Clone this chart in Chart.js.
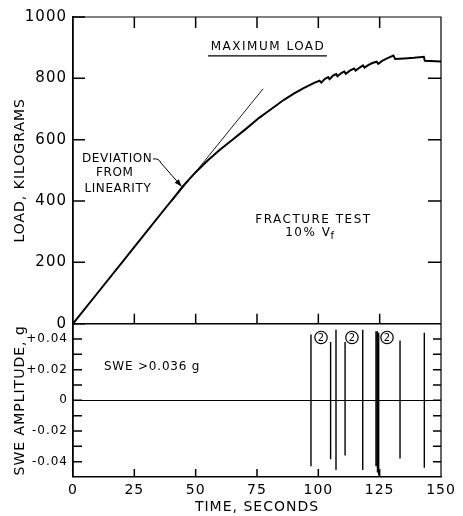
<!DOCTYPE html>
<html>
<head>
<meta charset="utf-8">
<script src="https://cdn.jsdelivr.net/npm/chart.js@4/dist/chart.umd.min.js"></script>
<style>
  html, body { margin: 0; padding: 0; background: #fff; }
</style>
</head>
<body>
<canvas id="myChart" width="463" height="516"></canvas>
<script>
// Load vs time
var loadTimes = [0, 10, 20, 30, 40, 45, 50, 55, 60, 65, 70, 76, 80, 86, 90, 94, 98.5, 100.5, 101.2, 102.5, 104, 104.6, 106, 107.3, 107.8, 109.5, 110.6, 111.2, 113, 114.6, 115.2, 117, 118.2, 118.8, 120.5, 122, 123.8, 124.4, 126, 128, 130.6, 131.3, 135, 139, 143, 143.4, 150];
var loadValues = [0, 100, 200, 300, 400, 450, 494, 533, 568, 600, 632, 672, 695, 730, 750, 768, 786, 792, 786, 797, 804, 797, 809, 814, 807, 818, 822, 815, 826, 832, 825, 836, 842, 835, 844, 850, 854, 847, 857, 865, 874, 863, 865, 867, 870, 857, 855];

// thin linear extension
var tangentTimes = [40, 77.5];
var tangentLoads = [396, 766];

// SWE events
var spikeTimes = [97.0, 105.0, 107.2, 110.9, 118.1, 123.5, 124.1, 124.6, 133.3, 143.2];
var spikeTops = [0.043, 0.038, 0.046, 0.038, 0.046, 0.045, 0.045, 0.044, 0.039, 0.044];
var spikeBottoms = [-0.043, -0.0385, -0.0455, -0.036, -0.0455, -0.043, -0.047, -0.049, -0.038, -0.044];

// circled "2" markers
var doubleTimes = [101.1, 113.7, 128.0];

var timeTicks = [0, 25, 50, 75, 100, 125, 150];
var loadTicks = [0, 200, 400, 600, 800, 1000];
var sweTicks = [-0.04, -0.03, -0.02, -0.01, 0, 0.01, 0.02, 0.03, 0.04];

var FONT = '"DejaVu Sans", sans-serif';

var loadData = loadTimes.map(function(t, i) { return {x: t, y: loadValues[i]}; });
var tangentData = tangentTimes.map(function(t, i) { return {x: t, y: tangentLoads[i]}; });
var spikeData = [];
spikeTimes.forEach(function(t, i) {
  spikeData.push({x: t, y: spikeTops[i]});
  spikeData.push({x: t, y: spikeBottoms[i]});
  spikeData.push({x: t, y: null});
});

function zeroOnly(color) {
  return function(c) { return c.tick.value === 0 ? color : 'rgba(0,0,0,0)'; };
}

// frame, inward ticks and the notes on the figure
var frame = {
  id: 'frame',
  beforeDraw: function(chart) { chart.ctx.letterSpacing = '1px'; },
  afterDraw: function(chart) {
    var c = chart.ctx, a = chart.chartArea;
    var sx = chart.scales.x, sy = chart.scales.y, sy2 = chart.scales.y2;
    c.save();
    c.strokeStyle = '#000';
    c.fillStyle = '#000';
    c.lineWidth = 1.2;
    c.beginPath();
    c.moveTo(a.left, a.top);
    c.lineTo(a.right, a.top);
    c.lineTo(a.right, a.bottom);
    c.stroke();

    c.lineWidth = 1.5;
    c.beginPath();
    var p;
    loadTicks.forEach(function(v) {
      p = sy.getPixelForValue(v);
      c.moveTo(a.left, p); c.lineTo(a.left + 12, p);
      if (v > 0 && v < 1000) { c.moveTo(a.right, p); c.lineTo(a.right - 13, p); }
    });
    sweTicks.forEach(function(v) {
      p = sy2.getPixelForValue(v);
      c.moveTo(a.left, p); c.lineTo(a.left + 9, p);
      c.moveTo(a.right, p); c.lineTo(a.right - 8, p);
    });
    var p0 = sy.getPixelForValue(0);
    timeTicks.forEach(function(v) {
      if (v === 0 || v === 150) return;
      p = sx.getPixelForValue(v);
      c.moveTo(p, a.top); c.lineTo(p, a.top + 11);
      c.moveTo(p, p0); c.lineTo(p, p0 - 10);
      c.moveTo(p, a.bottom); c.lineTo(p, a.bottom - 8);
    });
    c.stroke();

    // text notes
    c.font = '12px ' + FONT;
    c.textBaseline = 'middle';
    c.textAlign = 'center';
    var X = function(v) { return sx.getPixelForValue(v); };
    var Y = function(v) { return sy.getPixelForValue(v); };
    var Y2 = function(v) { return sy2.getPixelForValue(v); };

    c.letterSpacing = '1.5px';
    c.fillText('MAXIMUM LOAD', X(79.5), Y(903));
    c.lineWidth = 1.2;
    c.beginPath();
    c.moveTo(X(55), Y(873)); c.lineTo(X(103.5), Y(873));
    c.stroke();

    c.letterSpacing = '0.6px';
    c.fillText('DEVIATION', X(18), Y(537));
    c.fillText('FROM', X(17), Y(492));
    c.fillText('LINEARITY', X(18.3), Y(440));

    // arrow to the deviation point
    var sxp = X(32.6), syp = Y(537), tx = X(44.3), ty = Y(447);
    c.lineWidth = 1;
    c.beginPath();
    c.moveTo(sxp, syp);
    c.quadraticCurveTo(sxp + 6, syp - 1, sxp + 8, syp + 4);
    c.lineTo(tx, ty);
    c.stroke();
    var ang = Math.atan2(ty - syp - 4, tx - sxp - 8);
    c.beginPath();
    c.moveTo(tx, ty);
    c.lineTo(tx - 8 * Math.cos(ang - 0.35), ty - 8 * Math.sin(ang - 0.35));
    c.lineTo(tx - 8 * Math.cos(ang + 0.35), ty - 8 * Math.sin(ang + 0.35));
    c.closePath();
    c.fill();

    c.letterSpacing = '1.5px';
    c.fillText('FRACTURE TEST', X(98), Y(339));
    c.textAlign = 'left';
    var vx = X(86.5), vy = Y(296);
    c.fillText('10% V', vx, vy);
    var w = c.measureText('10% V').width;
    c.font = '10px ' + FONT;
    c.fillText('f', vx + w - 1, vy + 4);

    c.font = '12px ' + FONT;
    c.letterSpacing = '0.8px';
    c.fillText('SWE >0.036 g', X(12.6), Y2(0.022));

    c.textAlign = 'center';
    c.lineWidth = 1.2;
    doubleTimes.forEach(function(t) {
      var cx = X(t), cy = Y2(0.041);
      c.beginPath();
      c.arc(cx, cy, 6.2, 0, Math.PI * 2);
      c.stroke();
      c.letterSpacing = '0px';
      c.font = '10px ' + FONT;
      c.fillText('2', cx, cy + 0.5);
    });
    c.restore();
  }
};

var ctx = document.getElementById('myChart').getContext('2d');
var myChart = new Chart(ctx, {
  type: 'line',
  data: {
    datasets: [{
      label: 'Load',
      data: loadData,
      xAxisID: 'x', yAxisID: 'y',
      borderColor: '#000', borderWidth: 2,
      pointRadius: 0, tension: 0, fill: false
    }, {
      label: 'Linear',
      data: tangentData,
      xAxisID: 'x', yAxisID: 'y',
      borderColor: '#000', borderWidth: 0.9,
      pointRadius: 0, tension: 0, fill: false
    }, {
      label: 'SWE',
      data: spikeData,
      xAxisID: 'x', yAxisID: 'y2',
      borderColor: '#000', borderWidth: 1.4,
      pointRadius: 0, spanGaps: false, fill: false
    }]
  },
  options: {
    responsive: false,
    animation: false,
    devicePixelRatio: 1,
    layout: { padding: { top: 17, right: 22, left: 0, bottom: 0 } },
    plugins: { legend: { display: false }, tooltip: { enabled: false } },
    scales: {
      x: {
        type: 'linear', position: 'bottom', min: 0, max: 150,
        afterBuildTicks: function(s) { s.ticks = timeTicks.map(function(v) { return {value: v}; }); },
        ticks: { color: '#000', font: { family: FONT, size: 14 }, padding: 5, maxRotation: 0 },
        grid: { color: 'rgba(0,0,0,0)', drawTicks: false },
        border: { display: true, color: '#000', width: 1.5 },
        title: { display: true, text: 'TIME, SECONDS', color: '#000', font: { family: FONT, size: 14 }, padding: { top: 0, bottom: 0 } },
        afterFit: function(s) { s.height = 39; }
      },
      y2: {
        type: 'linear', position: 'left', stack: 'v', stackWeight: 1, min: -0.05, max: 0.05,
        afterBuildTicks: function(s) { s.ticks = sweTicks.map(function(v) { return {value: v}; }); },
        ticks: {
          color: '#000', font: { family: FONT, size: 12 }, padding: 5,
          callback: function(v) {
            var k = Math.round(v * 100);
            if (k % 2 !== 0) return '';
            if (k === 0) return '0';
            return (k > 0 ? '+' : '-') + '0.0' + Math.abs(k);
          }
        },
        grid: { color: zeroOnly('#000'), lineWidth: 1, drawTicks: false },
        border: { display: true, color: '#000', width: 1.8 },
        title: { display: true, text: 'SWE AMPLITUDE, g', color: '#000', font: { family: FONT, size: 14 }, padding: { top: 12, bottom: 0 } },
        afterFit: function(s) { s.width = 73; }
      },
      y: {
        type: 'linear', position: 'left', stack: 'v', stackWeight: 2, min: 0, max: 1000,
        afterBuildTicks: function(s) { s.ticks = loadTicks.map(function(v) { return {value: v}; }); },
        ticks: { color: '#000', font: { family: FONT, size: 15 }, padding: 6, callback: function(v) { return String(v); } },
        grid: { color: zeroOnly('#000'), lineWidth: 1.5, drawTicks: false },
        border: { display: true, color: '#000', width: 1.8 },
        title: { display: true, text: 'LOAD, KILOGRAMS', color: '#000', font: { family: FONT, size: 14 }, padding: { top: 12, bottom: 0 } },
        afterFit: function(s) { s.width = 73; }
      }
    }
  },
  plugins: [frame]
});
</script>
</body>
</html>
